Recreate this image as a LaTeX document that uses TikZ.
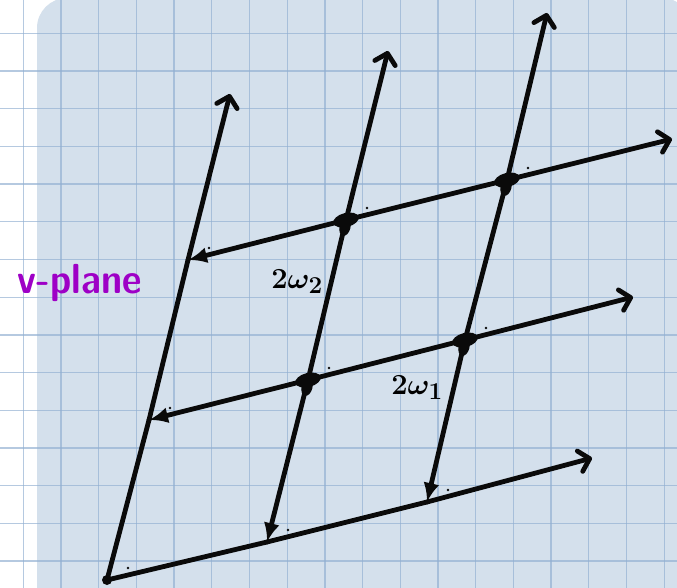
\documentclass[tikz,border=0pt]{standalone}
\usepackage{fontspec}
\usetikzlibrary{arrows.meta}
\definecolor{sheet}{RGB}{212,224,236}
\definecolor{rule}{RGB}{146,176,210}
\definecolor{ink}{RGB}{10,10,10}
\definecolor{marker}{RGB}{158,0,198}

\begin{document}
\begin{tikzpicture}[x = 1pt, y = -1pt,
		gridline/.style = {rule, line width = 1.3, opacity = 0.68},
		lattice/.style = {ink, line width = 4.8, line cap = round, line join = round},
		midtip/.style = {-{Latex[length = 19pt, width = 16pt]}},
		endtip/.style = {-{Straight Barb[length = 10pt, width = 21pt, line cap = round, line join = round]}},
		period/.style = {anchor = base, scale = 1.17, font = \Huge\boldmath}]
		\useasboundingbox (0,0) rectangle (677,588);
		\fill[white] (0,0) rectangle (677,588);
		\fill[sheet, rounded corners = 30] (37,-2) rectangle (692,640);
		\foreach \k in {0,...,17} {\draw[gridline] ({23.3+37.7*\k},0) -- ({23.3+37.7*\k},588);}
		\foreach \k in {0,...,14} {\draw[gridline] (0,{33.3+37.7*\k}) -- (677,{33.3+37.7*\k});}
		% lattice points
		\coordinate (p00) at (107,580);
		\coordinate (p10) at (267,542);
		\coordinate (p20) at (427,502);
		\coordinate (p01) at (149,420);
		\coordinate (p11) at (308,380);
		\coordinate (p21) at (465,340);
		\coordinate (p02) at (188,260);
		\coordinate (p12) at (346,220);
		\coordinate (p22) at (507,180);
		\coordinate (r0) at (592,458);
		\coordinate (r1) at (633,297);
		\coordinate (r2) at (672,139);
		\coordinate (c0) at (230,94);
		\coordinate (c1) at (388,51);
		\coordinate (c2) at (547,13);
		% rows (2 omega_1)
		\draw [lattice] (p00) -- (p10);
		\draw [lattice, midtip] (p11) -- (p01);
		\draw [lattice, midtip] (p12) -- (p02);
		\foreach \j in {0,1,2} {
			\draw [lattice] (p1\j) -- (p2\j);
			\draw [lattice, endtip] (p2\j) -- (r\j);
		}
		% columns (2 omega_2)
		\draw [lattice] (p00) -- (p01);
		\draw [lattice, midtip] (p11) -- (p10);
		\draw [lattice, midtip] (p21) -- (p20);
		\foreach \i in {0,1,2} {
			\draw [lattice] (p\i1) -- (p\i2);
			\draw [lattice, endtip] (p\i2) -- (c\i);
		}
		\fill [ink] (p00) circle (5);
		\foreach \p in {p11,p21,p12,p22} {
			\fill [ink] (\p) ellipse [x radius = 13, y radius = 7, rotate = 14];
			\fill [ink] ([shift = {(-1,7)}] \p) ellipse [x radius = 9, y radius = 5.5, rotate = 76];
		}
		\foreach \i in {0,1,2} {
			\foreach \j in {0,1,2} {\fill [ink] ([shift = {(21,-12)}] p\i\j) circle (1.4);}
		}
		\node [period] (w2) at (297,288) {$2\omega_2$};
		\node [period] (w1) at (417,394) {$2\omega_1$};
		\node [marker, anchor = base, xscale = 0.9, font = \fontsize{42}{46}\selectfont\sffamily\bfseries] (plane) at (80,293) {v-plane};
\end{tikzpicture}
\end{document}
